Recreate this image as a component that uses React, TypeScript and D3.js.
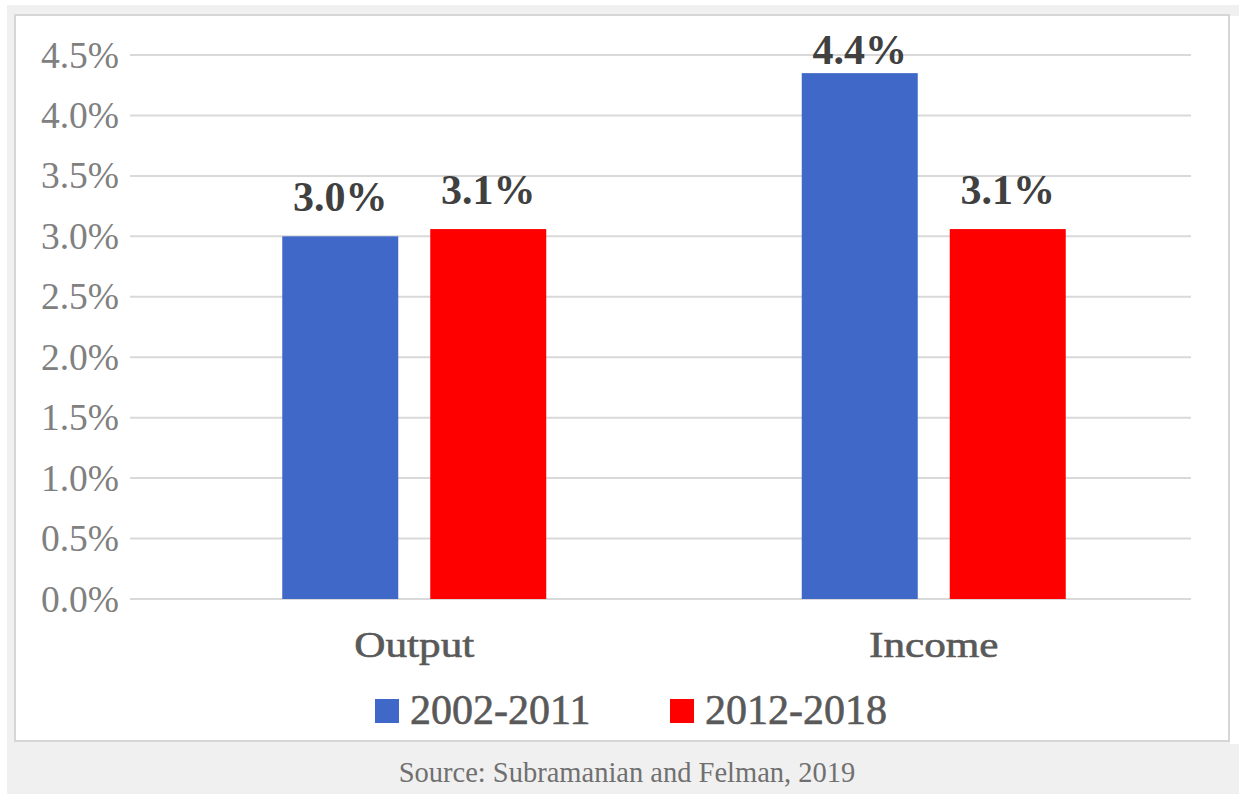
import React from "react";
import * as d3 from "d3";

const categories = ["Output", "Income"];
const seriesNames = ["2002-2011", "2012-2018"];
const seriesColors = ["#4068C8", "#FF0000"];
const values2002 = [3.0, 4.35];
const values2012 = [3.06, 3.06];
const labels2002 = ["3.0%", "4.4%"];
const labels2012 = ["3.1%", "3.1%"];
const yTicks = [0, 0.5, 1.0, 1.5, 2.0, 2.5, 3.0, 3.5, 4.0, 4.5];
const sourceText = "Source: Subramanian and Felman, 2019";

const W = 1239;
const H = 794;
const SERIF = "'Liberation Serif', 'Times New Roman', serif";

export default function App() {
  const y = d3.scaleLinear().domain([0, 4.5]).range([599, 55]);
  const x0 = d3.scaleBand<string>().domain(categories).range([154.5, 1193.5]).padding(0);
  const x1 = d3
    .scaleBand<string>()
    .domain(seriesNames)
    .range([0, x0.bandwidth()])
    .paddingInner(32 / 148)
    .paddingOuter(127.75 / 148);

  const series = [
    { name: seriesNames[0], color: seriesColors[0], values: values2002, labels: labels2002 },
    { name: seriesNames[1], color: seriesColors[1], values: values2012, labels: labels2012 },
  ];

  const legendItems = [
    { x: 375, textX: 410 },
    { x: 670, textX: 705 },
  ];

  return (
    <svg
      width={W}
      height={H}
      style={{ position: "absolute", left: 0, top: 0, display: "block" }}
    >
      <rect x={0} y={0} width={W} height={H} fill="#ffffff" />
      <rect x={7} y={5} width={W - 7} height={H - 5} fill="#f0f0f0" />
      <rect x={1230} y={16} width={9} height={728} fill="#ffffff" />
      <rect
        x={15}
        y={15}
        width={1214}
        height={726}
        fill="#ffffff"
        stroke="#d6d6d6"
        strokeWidth={2}
      />

      {/* gridlines */}
      {yTicks.map((t) => (
        <line
          key={"g" + t}
          x1={130}
          x2={1191}
          y1={y(t)}
          y2={y(t)}
          stroke="#d9d9d9"
          strokeWidth={2}
        />
      ))}

      {/* y tick labels */}
      {yTicks.map((t) => (
        <text
          key={"t" + t}
          x={119}
          y={y(t) + 12.5}
          textAnchor="end"
          fontFamily={SERIF}
          fontSize={37.5}
          fill="#808080"
        >
          {t.toFixed(1) + "%"}
        </text>
      ))}

      {/* bars */}
      {categories.map((c, ci) =>
        series.map((s) => (
          <rect
            key={c + s.name}
            x={(x0(c) as number) + (x1(s.name) as number)}
            y={y(s.values[ci])}
            width={x1.bandwidth()}
            height={y(0) - y(s.values[ci])}
            fill={s.color}
          />
        ))
      )}

      {/* value labels */}
      {categories.map((c, ci) =>
        series.map((s) => (
          <text
            key={"v" + c + s.name}
            x={(x0(c) as number) + (x1(s.name) as number) + x1.bandwidth() / 2}
            y={Math.max(y(s.values[ci]) - 25.5, 63.5)}
            textAnchor="middle"
            fontFamily={SERIF}
            fontWeight="bold"
            fontSize={42}
            fill="#404040"
          >
            {s.labels[ci]}
          </text>
        ))
      )}

      {/* category labels */}
      {categories.map((c) => (
        <text
          key={"c" + c}
          transform={`translate(${(x0(c) as number) + x0.bandwidth() / 2},657) scale(1.2,1)`}
          x={0}
          y={0}
          textAnchor="middle"
          fontFamily={SERIF}
          fontSize={36}
          fill="#595959"
          stroke="#595959"
          strokeWidth={0.6}
        >
          {c}
        </text>
      ))}

      {/* legend */}
      {series.map((s, i) => (
        <g key={"l" + s.name}>
          <rect x={legendItems[i].x} y={699} width={24} height={24} fill={s.color} />
          <text
            x={legendItems[i].textX}
            y={724}
            fontFamily={SERIF}
            fontSize={42}
            fill="#595959"
            stroke="#595959"
            strokeWidth={0.6}
          >
            {s.name}
          </text>
        </g>
      ))}

      {/* source */}
      <text
        x={627}
        y={782}
        textAnchor="middle"
        fontFamily={SERIF}
        fontSize={28.5}
        fill="#707070"
      >
        {sourceText}
      </text>
    </svg>
  );
}
